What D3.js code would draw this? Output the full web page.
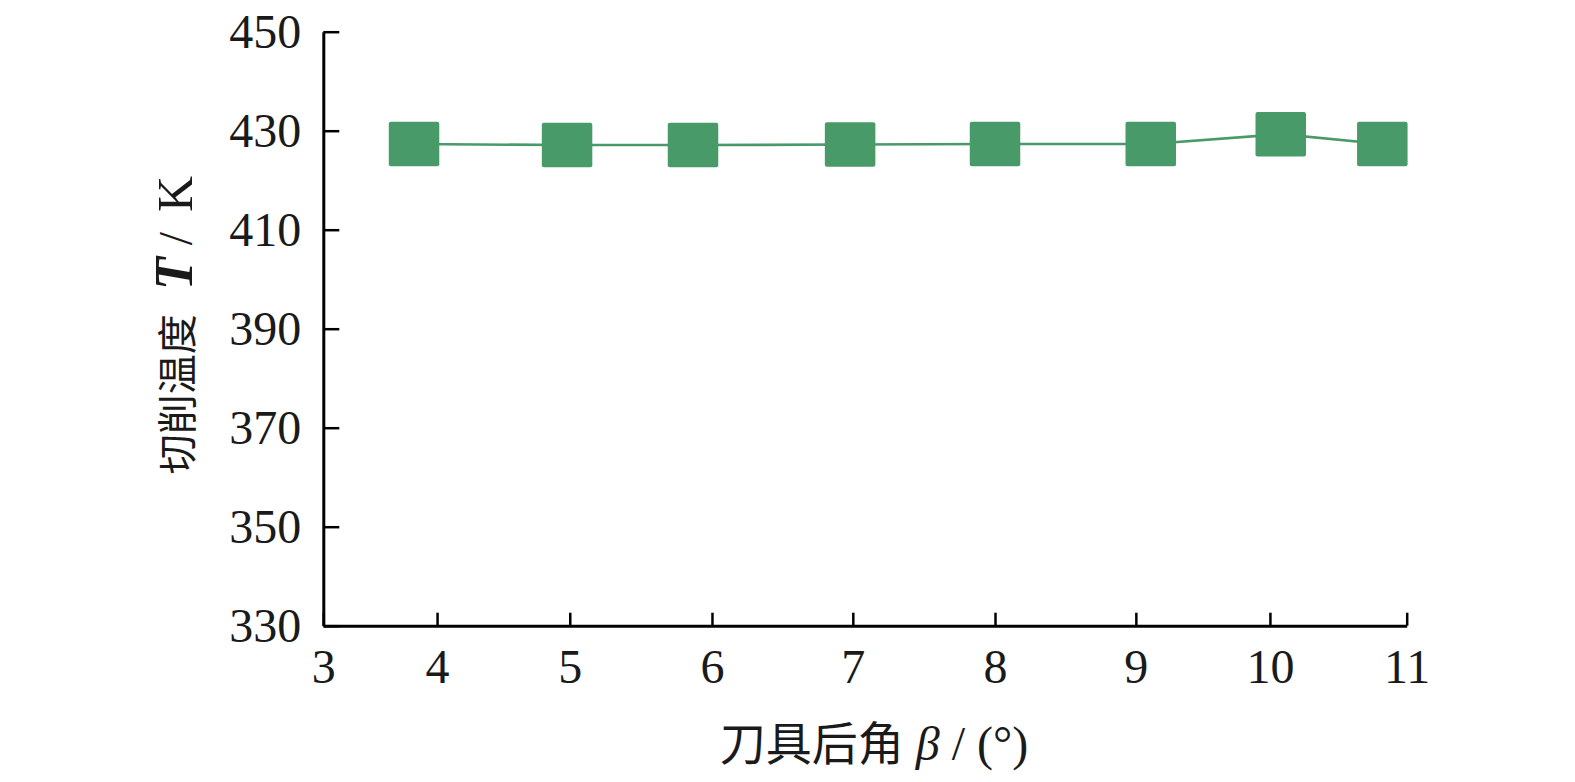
<!DOCTYPE html>
<html>
<head>
<meta charset="utf-8">
<script src="https://cdn.jsdelivr.net/npm/d3@7"></script>
<style>
  html, body { margin: 0; padding: 0; background: #fff; }
  svg { display: block; }
</style>
</head>
<body>
<svg id="chart" width="1575" height="782"></svg>
<script>
// ---- data ----
const xTickLabels = ["3", "4", "5", "6", "7", "8", "9", "10", "11"];
// positions of the tick labels along the (linear) β axis, as drawn in the figure
const xTickValues = [3, 3.84, 4.82, 5.87, 6.91, 7.96, 9.0, 9.99, 11];
const betaValues = [3.67, 4.80, 5.73, 6.89, 7.96, 9.11, 10.07, 10.82];
const tempValues = [427.3, 427.1, 427.1, 427.2, 427.3, 427.3, 429.3, 427.3];
const yTickValues = [330, 350, 370, 390, 410, 430, 450];

// ---- layout ----
const margin = { left: 323.3, top: 31.7, right: 1575 - 1406.7, bottom: 782 - 625.7 };
const W = 1575, H = 782;
const iw = W - margin.left - margin.right;
const ih = H - margin.top - margin.bottom;
const green = "#489a69";
const serif = "'Liberation Serif', 'Times New Roman', serif";
const cjk = "'Noto Sans CJK SC', sans-serif";

const svg = d3.select("#chart");
const g = svg.append("g").attr("transform", `translate(${margin.left},${margin.top})`);

const x = d3.scaleLinear().domain([3, 11]).range([0, iw]);
const y = d3.scaleLinear().domain([330, 450]).range([ih, 0]);

// x axis
const xAxis = g.append("g")
  .attr("transform", `translate(0,${ih})`)
  .call(d3.axisBottom(x).tickValues(xTickValues)
    .tickFormat((d, i) => xTickLabels[i]).tickSizeInner(-13).tickSizeOuter(0));
xAxis.select(".domain").attr("stroke", "#000").attr("stroke-width", 3);
xAxis.selectAll(".tick line").attr("stroke", "#000").attr("stroke-width", 2.5);
xAxis.selectAll(".tick text")
  .attr("y", 57.3).attr("dy", 0)
  .attr("font-family", serif).attr("font-size", 48).attr("fill", "#1a1a1a");

// y axis
const yAxis = g.append("g")
  .call(d3.axisLeft(y).tickValues(yTickValues).tickSizeInner(-16).tickSizeOuter(0));
yAxis.select(".domain").attr("stroke", "#000").attr("stroke-width", 3);
yAxis.selectAll(".tick line").attr("stroke", "#000").attr("stroke-width", 2.5);
yAxis.selectAll(".tick text")
  .attr("x", -22).attr("dy", "0.33em")
  .attr("font-family", serif).attr("font-size", 48).attr("fill", "#1a1a1a");

// line
const pts = betaValues.map((b, i) => [b, tempValues[i]]);
g.append("path")
  .datum(pts)
  .attr("fill", "none")
  .attr("stroke", green)
  .attr("stroke-width", 2.6)
  .attr("d", d3.line().x(d => x(d[0])).y(d => y(d[1])));

// markers
const mw = 50.5, mh = 44.5;
g.selectAll("rect.mk")
  .data(pts)
  .join("rect")
  .attr("class", "mk")
  .attr("x", d => x(d[0]) - mw / 2)
  .attr("y", d => y(d[1]) - mh / 2)
  .attr("width", mw).attr("height", mh)
  .attr("rx", 2).attr("ry", 2)
  .attr("fill", green);

// x axis title
const xt = svg.append("text")
  .attr("x", 874)
  .attr("y", 760)
  .attr("text-anchor", "middle")
  .attr("fill", "#1a1a1a");
xt.append("tspan").attr("font-family", cjk).attr("font-size", 46).text("刀具后角");
xt.append("tspan").attr("font-family", serif).attr("font-size", 48).attr("font-style", "italic").text(" β");
xt.append("tspan").attr("font-family", serif).attr("font-size", 48).text(" / (°)");

// y axis title
const yt = svg.append("text")
  .attr("transform", `translate(192,325) rotate(-90)`)
  .attr("text-anchor", "middle")
  .attr("fill", "#1a1a1a");
yt.append("tspan").attr("font-family", cjk).attr("font-size", 40).text("切削温度");
yt.append("tspan").attr("dx", 24).attr("font-family", serif).attr("font-size", 54).attr("font-style", "italic").attr("font-weight", "bold").text("T");
yt.append("tspan").attr("dx", 12).attr("font-family", serif).attr("font-size", 48).text("/");
yt.append("tspan").attr("dx", 20).attr("font-family", serif).attr("font-size", 50).text("K");
</script>
</body>
</html>
